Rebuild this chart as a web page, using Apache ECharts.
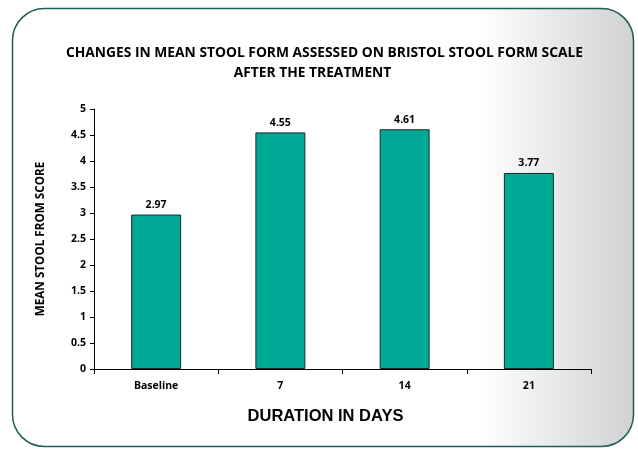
<!DOCTYPE html>
<html><head><meta charset="utf-8">
<script src="https://cdn.jsdelivr.net/npm/echarts@6/dist/echarts.min.js"></script>
<style>html,body{margin:0;padding:0;background:#fff}#c{width:638px;height:451px}</style>
</head><body><div id="c"></div>
<script>
const categories = ['Baseline', '7', '14', '21'];
const meanScores = [2.97, 4.55, 4.61, 3.77];
const yTicks = [0, 0.5, 1, 1.5, 2, 2.5, 3, 3.5, 4, 4.5, 5];
const titleLines = ['CHANGES IN MEAN STOOL FORM ASSESSED ON BRISTOL STOOL FORM SCALE', 'AFTER THE TREATMENT'];

const chart = echarts.init(document.getElementById('c'), null, {renderer: 'canvas'});
const F = '"Open Sans", Lato, sans-serif';
const titleStyle = {fontFamily: F, fontWeight: 'bold', fontSize: 13.8, color: '#000', lineHeight: 20};
chart.setOption({
  animation: false,
  graphic: [{
    type: 'rect', z: -10, silent: true,
    shape: {x: 12.5, y: 8.5, width: 621, height: 438, r: 32},
    style: {
      fill: new echarts.graphic.LinearGradient(0, 0, 1, 0, [
        {offset: 0, color: '#ffffff'},
        {offset: 0.75, color: '#ffffff'},
        {offset: 1, color: '#cfd1d3'}
      ]),
      stroke: '#1d5e55', lineWidth: 1.5
    }
  }],
  title: [
    {text: titleLines[0], left: 324.5, top: 43, textAlign: 'center', textStyle: titleStyle, padding: 0},
    {text: titleLines[1], left: 312.5, top: 63, textAlign: 'center', textStyle: titleStyle, padding: 0}
  ],
  grid: {left: 94, right: 47, top: 109, bottom: 82},
  xAxis: {
    type: 'category', data: categories,
    name: 'DURATION IN DAYS', nameLocation: 'middle', nameGap: 39,
    nameTextStyle: {fontFamily: 'Liberation Sans, Arial, sans-serif', fontWeight: 'bold', fontSize: 16.5, color: '#000', padding: [0, 34, 0, 0]},
    axisLine: {lineStyle: {color: '#000', width: 1}},
    axisTick: {show: true, alignWithLabel: false, length: 5, lineStyle: {color: '#000'}},
    axisLabel: {fontFamily: F, fontWeight: 'bold', fontSize: 10.5, color: '#000', margin: 12}
  },
  yAxis: {
    type: 'value', min: 0, max: 5, interval: 0.5,
    name: 'MEAN STOOL FROM SCORE', nameLocation: 'middle', nameGap: 47, nameRotate: 90,
    nameTextStyle: {fontFamily: F, fontWeight: 'bold', fontSize: 11.7, color: '#000'},
    axisLine: {show: true, lineStyle: {color: '#000', width: 1}},
    axisTick: {show: true, length: 4, lineStyle: {color: '#000'}},
    splitLine: {show: false},
    axisLabel: {fontFamily: F, fontWeight: 'bold', fontSize: 10.5, color: '#000', margin: 8,
      formatter: v => yTicks.includes(v) ? String(v) : ''}
  },
  series: [{
    type: 'bar', data: meanScores, barWidth: 50,
    itemStyle: {color: '#00a896', borderColor: '#1b2a28', borderWidth: 1},
    label: {show: true, position: 'top', distance: 4, fontFamily: F, fontWeight: 'bold', fontSize: 10.5, color: '#000',
      formatter: p => p.value.toFixed(2)}
  }]
});
</script></body></html>
